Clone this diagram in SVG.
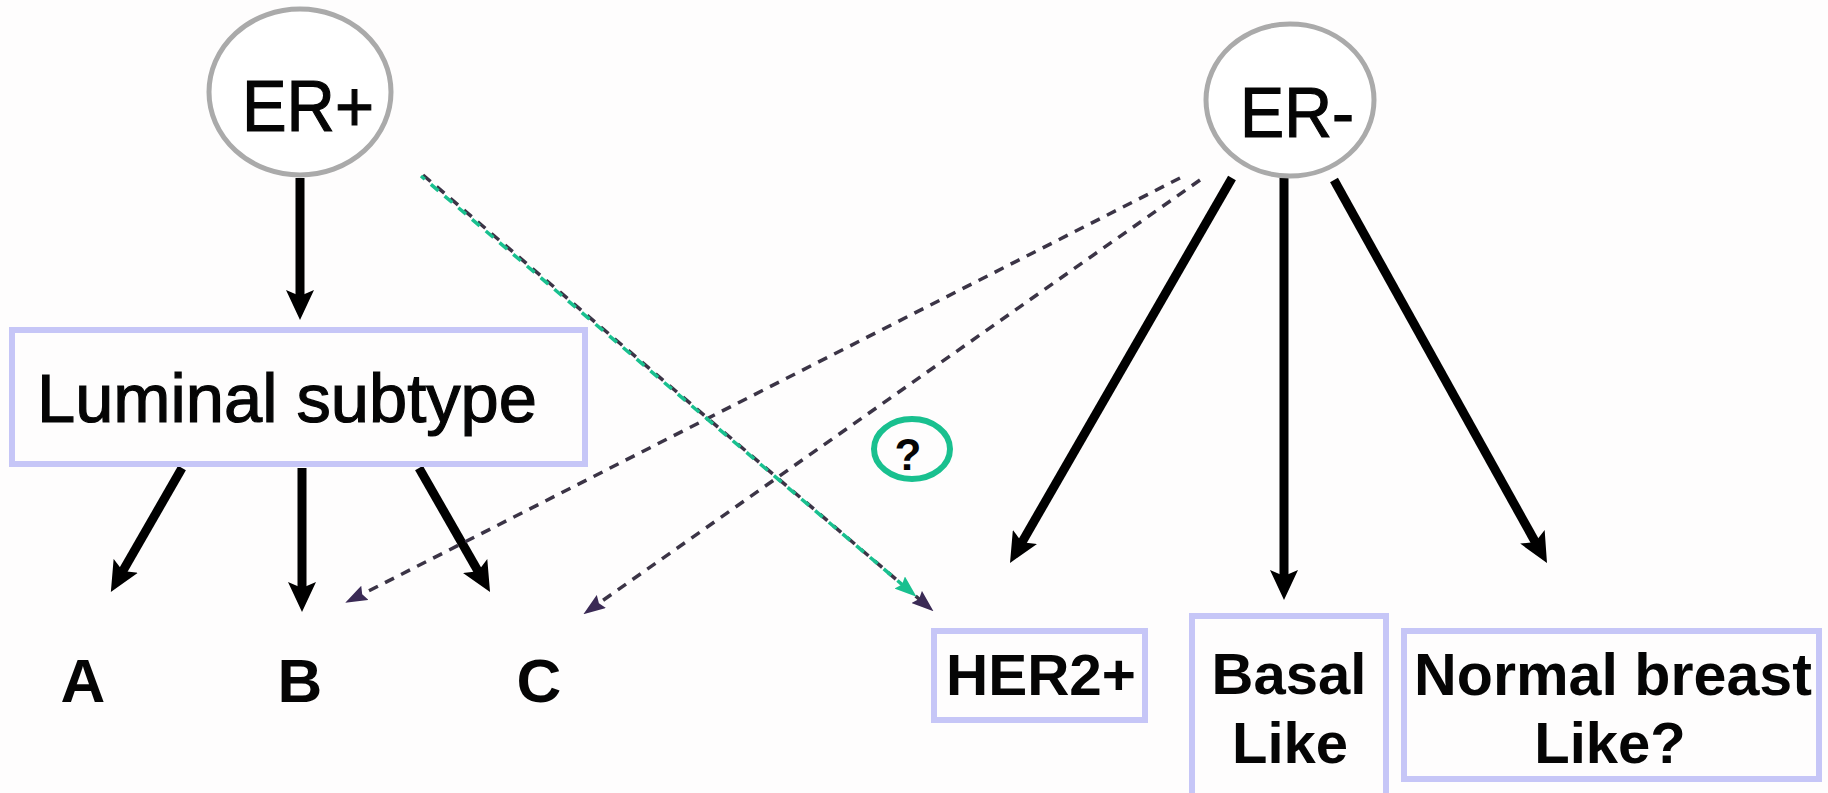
<svg xmlns="http://www.w3.org/2000/svg" width="1828" height="793" viewBox="0 0 1828 793">
  <style>
    .oval { fill: #ffffff; stroke: #aaaaaa; stroke-width: 5; }
    .box { fill: none; stroke: #c6c6f7; stroke-width: 6; }
    .solid { stroke: #000000; stroke-width: 9; fill: none; marker-end: url(#head); }
    .dash { stroke: #3b3446; stroke-width: 3.5; fill: none; stroke-dasharray: 10 8; marker-end: url(#dhead); }
    .green { stroke: #19c08f; stroke-width: 3.5; fill: none; stroke-dasharray: 10 8; stroke-dashoffset: 5; marker-end: url(#ghead); }
    .big { font-family: "Liberation Sans", Arial, sans-serif; fill: #050505; stroke: #050505; stroke-width: 1.2; }
    .bold { font-family: "Liberation Sans", Arial, sans-serif; font-weight: bold; fill: #050505; }
  </style>
  <defs>
    <marker id="head" markerUnits="userSpaceOnUse" markerWidth="30" markerHeight="28" refX="8" refY="14" orient="auto">
      <path d="M0,0 L30,14 L0,28 L6,14 Z" fill="#000000"/>
    </marker>
    <marker id="dhead" markerUnits="userSpaceOnUse" markerWidth="22" markerHeight="16" refX="4" refY="8" orient="auto">
      <path d="M0,0 L22,8 L0,16 L3,8 Z" fill="#3a2a55"/>
    </marker>
    <marker id="ghead" markerUnits="userSpaceOnUse" markerWidth="22" markerHeight="16" refX="4" refY="8" orient="auto">
      <path d="M0,0 L22,8 L0,16 L3,8 Z" fill="#19c08f"/>
    </marker>
  </defs>

  <rect x="0" y="0" width="1828" height="793" fill="#fefdfd"/>

  <!-- connectors -->
  <g id="connectors">
    <line class="solid" x1="300" y1="178" x2="300" y2="298"/>
    <line class="solid" x1="182" y1="468" x2="121.8" y2="572.8"/>
    <line class="solid" x1="302" y1="468" x2="302" y2="590"/>
    <line class="solid" x1="419" y1="468" x2="479.1" y2="572.9"/>
    <line class="solid" x1="1232" y1="178" x2="1021" y2="543.9"/>
    <line class="solid" x1="1284" y1="178" x2="1284" y2="578"/>
    <line class="solid" x1="1334" y1="180" x2="1536.3" y2="543.8"/>
    <line class="dash" x1="1180" y1="178" x2="361.3" y2="594.7"/>
    <line class="dash" x1="1200" y1="180" x2="598.1" y2="603.8"/>
    <line class="dash" x1="423" y1="175" x2="919.8" y2="599.6"/>
    <line class="green" x1="421" y1="176" x2="902.8" y2="585.1"/>
  </g>

  <g id="er-pos">
    <ellipse class="oval" cx="300" cy="92" rx="91" ry="83"/>
    <text class="big" x="242" y="131" font-size="72" textLength="132" lengthAdjust="spacingAndGlyphs">ER+</text>
  </g>

  <g id="er-neg">
    <ellipse class="oval" cx="1290" cy="100" rx="84" ry="76"/>
    <text class="big" x="1240" y="137" font-size="70" textLength="114" lengthAdjust="spacingAndGlyphs">ER-</text>
  </g>

  <g id="luminal">
    <rect class="box" x="12" y="330" width="573" height="134"/>
    <text class="big" x="37" y="422" font-size="68" textLength="500" lengthAdjust="spacingAndGlyphs">Luminal subtype</text>
  </g>

  <g id="sub-a"><text class="bold" x="83" y="702" font-size="62" text-anchor="middle">A</text></g>
  <g id="sub-b"><text class="bold" x="300" y="702" font-size="62" text-anchor="middle">B</text></g>
  <g id="sub-c"><text class="bold" x="539" y="702" font-size="62" text-anchor="middle">C</text></g>

  <g id="question">
    <ellipse cx="912" cy="449" rx="38" ry="30" fill="none" stroke="#19c08f" stroke-width="6"/>
    <text class="bold" x="908" y="470" font-size="44" text-anchor="middle">?</text>
  </g>

  <g id="her2">
    <rect class="box" x="934" y="631" width="211" height="89"/>
    <text class="bold" x="946" y="695" font-size="58" textLength="190" lengthAdjust="spacingAndGlyphs">HER2+</text>
  </g>

  <g id="basal">
    <rect class="box" x="1192" y="616" width="194" height="200"/>
    <text class="bold" x="1289" y="694" font-size="58" text-anchor="middle">Basal</text>
    <text class="bold" x="1290" y="763" font-size="58" text-anchor="middle">Like</text>
  </g>

  <g id="normal">
    <rect class="box" x="1404" y="631" width="415" height="148"/>
    <text class="bold" x="1414" y="695" font-size="59" textLength="398" lengthAdjust="spacingAndGlyphs">Normal breast</text>
    <text class="bold" x="1610" y="763" font-size="58" text-anchor="middle">Like?</text>
  </g>
</svg>
